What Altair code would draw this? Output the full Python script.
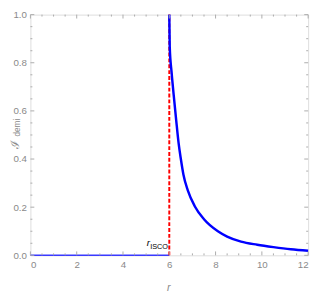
import altair as alt
import pandas as pd

# Curve data
r_flat = [0.0, 6.0]
I_flat = [0.0, 0.0]

r_curve = [6.0, 6.02, 6.1, 6.19, 6.3, 6.4, 6.5, 6.61, 6.8, 7.1, 7.5, 8.1, 8.5, 9.1, 9.8, 10.5, 11.25, 12.0]
I_curve = [1.0, 0.865, 0.76, 0.667, 0.56, 0.468, 0.40, 0.336, 0.27, 0.204, 0.15, 0.10, 0.078, 0.057, 0.044, 0.034, 0.025, 0.019]

r_isco = [6.0, 6.0]
I_isco = [0.0, 1.0]

x_major = [0, 2, 4, 6, 8, 10, 12]
x_minor = [0.5, 1, 1.5, 2.5, 3, 3.5, 4.5, 5, 5.5, 6.5, 7, 7.5, 8.5, 9, 9.5, 10.5, 11, 11.5]
y_major = [0.0, 0.2, 0.4, 0.6, 0.8, 1.0]
y_minor = [0.05, 0.1, 0.15, 0.25, 0.3, 0.35, 0.45, 0.5, 0.55, 0.65, 0.7, 0.75, 0.85, 0.9, 0.95]

W, H = 285, 247
FRAME = "#ababab"
LABEL = "#8a8a8a"
FONT = "Liberation Sans"

xs = alt.Scale(domain=[0, 12], nice=False)
ys = alt.Scale(domain=[0, 1], nice=False)

flat_df = pd.DataFrame({"r": r_flat, "I": I_flat})
curve_df = pd.DataFrame({"r": r_curve, "I": I_curve})
isco_df = pd.DataFrame({"r": r_isco, "I": I_isco})

x_axis = alt.Axis(values=x_major, format="d", title=None, ticks=False, domain=False, grid=False,
                  labelFont=FONT, labelFontSize=10, labelColor=LABEL, labelPadding=5)
y_axis = alt.Axis(values=y_major, format=".1f", title=None, ticks=False, domain=False, grid=False,
                  labelFont=FONT, labelFontSize=10, labelColor=LABEL, labelPadding=4)

X = lambda f: alt.X(f, scale=xs, axis=x_axis)
Y = lambda f: alt.Y(f, scale=ys, axis=y_axis)

flat = alt.Chart(flat_df).mark_line(color="#3a3aff", strokeWidth=1.5).encode(x=X("r:Q"), y=Y("I:Q"))
curve = alt.Chart(curve_df).mark_line(color="#0000ff", strokeWidth=2.5, interpolate="monotone").encode(
    x=X("r:Q"), y=Y("I:Q"))
isco = alt.Chart(isco_df).mark_line(color="#ff0000", strokeWidth=2, strokeDash=[4, 2]).encode(
    x=X("r:Q"), y=Y("I:Q"))

def xticks(vals, length):
    df = pd.DataFrame({"v": vals})
    b = alt.Chart(df).mark_rule(color=FRAME, strokeWidth=1).encode(
        x=X("v:Q"), y=alt.value(H), y2=alt.value(H - length))
    t = alt.Chart(df).mark_rule(color=FRAME, strokeWidth=1).encode(
        x=X("v:Q"), y=alt.value(0), y2=alt.value(length))
    return [b, t]

def yticks(vals, length):
    df = pd.DataFrame({"v": vals})
    l = alt.Chart(df).mark_rule(color=FRAME, strokeWidth=1).encode(
        y=Y("v:Q"), x=alt.value(0), x2=alt.value(length))
    r = alt.Chart(df).mark_rule(color=FRAME, strokeWidth=1).encode(
        y=Y("v:Q"), x=alt.value(W), x2=alt.value(W - length))
    return [l, r]

ticks = xticks(x_major, 4) + xticks(x_minor, 2) + yticks(y_major, 4) + yticks(y_minor, 2)

txt_df = pd.DataFrame({"a": [0]})
def label(text, x, y, size, color, style="normal", angle=0, font=FONT):
    return alt.Chart(txt_df).mark_text(text=text, fontSize=size, color=color, fontStyle=style,
                                       font=font, angle=angle, align="center", baseline="middle").encode(
        x=alt.value(x), y=alt.value(y))

texts = [
    label("r", 142, 281, 11, LABEL, "italic"),
    label("ℐ", -16, 133, 12, LABEL, "normal", 270, "DejaVu Serif"),
    label("demi", -14, 116, 8.5, LABEL, "normal", 270),
    label("r", 121, 234, 10, "#000000", "italic"),
    label("ISCO", 132, 238, 7.5, "#000000"),
]

chart = alt.layer(flat, isco, curve, *ticks, *texts).properties(
    width=W, height=H,
    autosize=alt.AutoSizeParams(type="none"),
    padding={"left": 23, "top": 3, "right": 6, "bottom": 40},
).configure_view(stroke=FRAME, strokeWidth=1.5).configure(background="white")

chart.save("out.html", embed_options={"renderer": "svg", "actions": False})
